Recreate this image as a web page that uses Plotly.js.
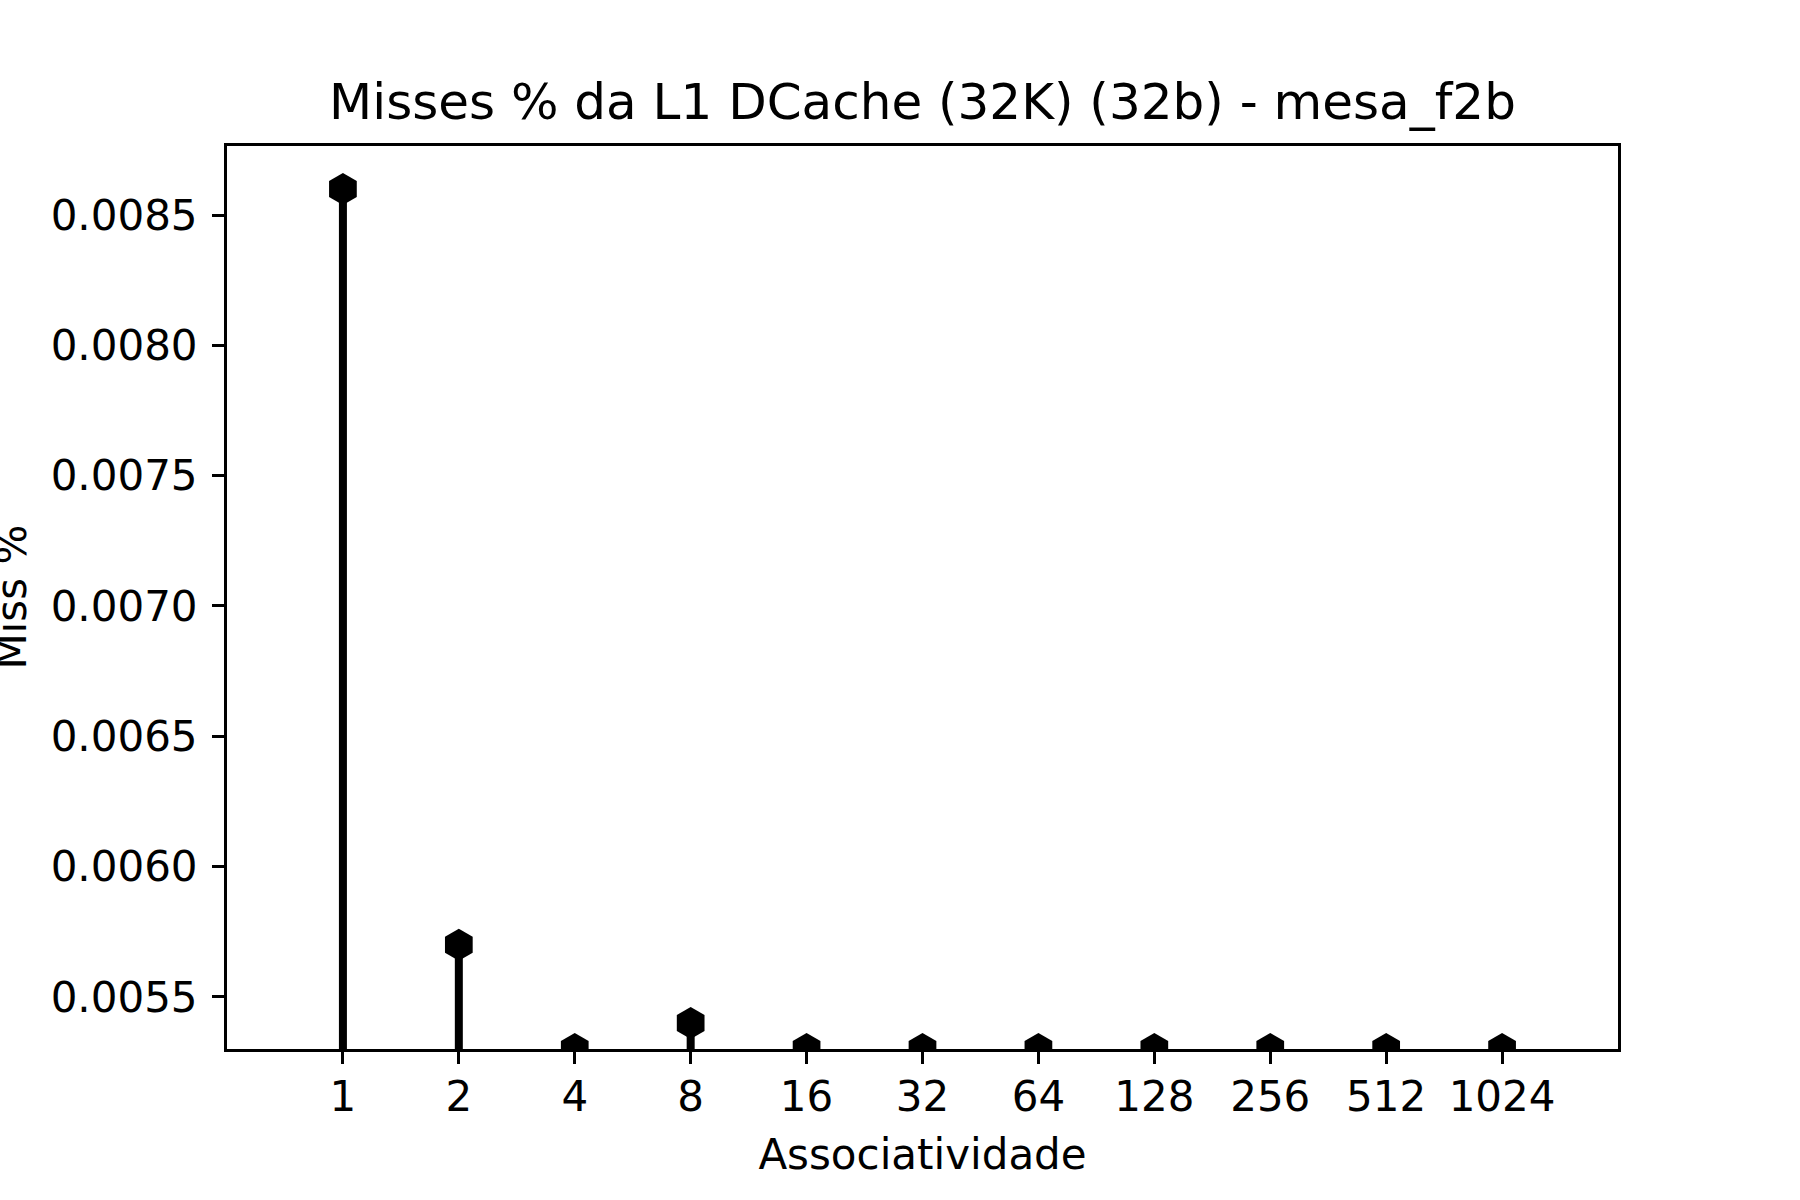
<!DOCTYPE html>
<html>
<head>
<meta charset="utf-8">
<script src="https://cdn.plot.ly/plotly-3.0.1.min.js"></script>
<style>html,body{margin:0;padding:0;background:#fff}</style>
</head>
<body>
<div id="chart" style="width:1800px;height:1200px"></div>
<script>
// associativity (ways) and L1 DCache miss %
const assocLabels = ['1', '2', '4', '8', '16', '32', '64', '128', '256', '512', '1024'];
const missPct = [0.0086, 0.0057, 0.0053, 0.0054, 0.0053, 0.0053, 0.0053, 0.0053, 0.0053, 0.0053, 0.0053];
const noUpper = [0, 0, 0, 0, 0, 0, 0, 0, 0, 0, 0];
const yTicks = [0.0055, 0.0060, 0.0065, 0.0070, 0.0075, 0.0080, 0.0085];
const yRange = [0.0053, 0.008765];

const font = {family: 'DejaVu Sans', size: 42, color: '#000'};

// stems drawn as one-sided error bars down to 0, clipped by the axes
const stemTrace = {
    x: assocLabels,
    y: missPct,
    type: 'scatter',
    mode: 'markers',
    cliponaxis: true,
    marker: {symbol: 'hexagon', size: 32, color: '#000', line: {width: 0}},
    error_y: {
        type: 'data',
        symmetric: false,
        array: noUpper,
        arrayminus: missPct,
        thickness: 8,
        width: 0,
        color: '#000'
    },
    hoverinfo: 'x+y'
};

const axisBase = {
    showline: true,
    linewidth: 3,
    linecolor: '#000',
    mirror: true,
    ticks: 'outside',
    ticklen: 12,
    tickwidth: 3,
    tickcolor: '#000',
    tickfont: font,
    showgrid: false,
    zeroline: false
};

const layout = {
    width: 1800,
    height: 1200,
    margin: {l: 226.5, r: 181.5, t: 145.5, b: 150.5},
    paper_bgcolor: '#fff',
    plot_bgcolor: '#fff',
    font: font,
    showlegend: false,
    title: {
        text: 'Misses % da L1 DCache (32K) (32b) - mesa_f2b',
        font: {family: 'DejaVu Sans', size: 50, color: '#000'},
        x: 0.5,
        xref: 'paper',
        xanchor: 'center',
        y: 1 - 101 / 1200,
        yref: 'container',
        yanchor: 'middle'
    },
    xaxis: Object.assign({}, axisBase, {
        type: 'category',
        range: [-1, 11],
        ticklabelstandoff: -3,
        title: {text: 'Associatividade', font: font, standoff: 20}
    }),
    yaxis: Object.assign({}, axisBase, {
        range: yRange,
        tickvals: yTicks,
        tickformat: '.4f',
        ticklabelstandoff: 6
    }),
    // y title sits partly past the left edge in the original, which an axis title cannot do
    annotations: [{
        text: 'Miss %',
        font: font,
        textangle: -90,
        xref: 'paper',
        yref: 'paper',
        x: -0.1552,
        y: 0.5,
        xanchor: 'center',
        yanchor: 'middle',
        showarrow: false
    }]
};

const plotConfig = {responsive: false, displayModeBar: false};
Plotly.newPlot(document.getElementById('chart'), [stemTrace], layout, plotConfig);
</script>
</body>
</html>
